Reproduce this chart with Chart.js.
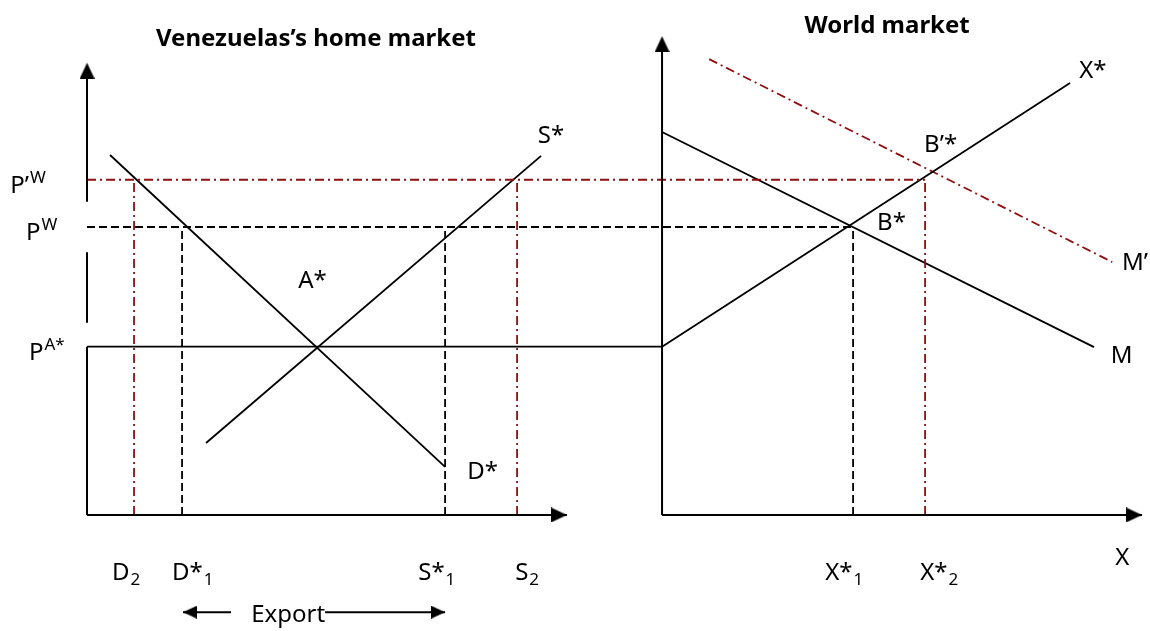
<!DOCTYPE html>
<html>
<head>
<meta charset="utf-8">
<script src="https://cdn.jsdelivr.net/npm/chart.js@4.4.1/dist/chart.umd.min.js"></script>
<style>
  html, body { margin: 0; padding: 0; background: #fff; }
  #wrap { width: 1150px; height: 631px; }
</style>
</head>
<body>
<div id="wrap"><canvas id="chart"></canvas></div>
<script>
// prices
const pAutarky = 37.4;   // P^A*
const pWorld = 64;       // P^W
const pWorldNew = 74.5;  // P'^W

// home market quantities
const qD2 = 9.8;
const qDStar1 = 19.8;
const qSStar1 = 74.6;
const qS2 = 89.6;
const homeDemand = [[4.8, 80], [74.6, 10.7]];     // D*
const homeSupply = [[24.8, 16], [94.6, 79.8]];    // S*
const homeAxisTop = 100.5;
const homeAxisEnd = 100;
const exportLeft = [30, 20];
const exportRight = [49.6, 74.6];
const exportLevel = -21.6;

// world market (quantities relative to its own origin)
const worldOrigin = 119.8;
const qX1 = 39.8;
const qX2 = 54.8;
const importDemand = [[0, 85.1], [90, 37.3]];        // M
const importDemandNew = [[9.8, 101.3], [93.8, 56.2]]; // M'
const exportSupply = [[0, 37.4], [85, 96]];          // X*
const worldAxisTop = 106.4;
const worldAxisEnd = 100;

const RED = '#8f1010';
const DASH = [8, 4];
const DASHDOT = [9, 4, 2, 4];
const FONT = '"Noto Sans", "Open Sans", sans-serif';

const home = arr => arr.map(([x, y]) => ({ x, y }));
const world = arr => arr.map(([x, y]) => ({ x: x + worldOrigin, y }));
const gap = { x: NaN, y: NaN };

function makeArrow(w, len) {
  const c = document.createElement('canvas');
  c.width = w; c.height = len * 2;
  const g = c.getContext('2d');
  g.fillStyle = '#000';
  g.beginPath();
  g.moveTo(w / 2, len); g.lineTo(w, len * 2); g.lineTo(0, len * 2);
  g.closePath(); g.fill();
  return c;
}
const bigArrow = makeArrow(15, 16);
const smallArrow = makeArrow(13, 14);

function seg(data, color, width, dash) {
  return {
    data, borderColor: color, borderWidth: width, borderDash: dash || [],
    pointRadius: 0, spanGaps: false, fill: false, tension: 0
  };
}

const labels = [
  { q: -16.0, p: 71.6, text: 'P’', sup: 'W' },
  { q: -12.7, p: 61.1, text: 'P', sup: 'W' },
  { q: -12.1, p: 34.4, text: 'P', sup: 'A*' },
  { q: 93.9, p: 82.7, text: 'S*' },
  { q: 44.0, p: 50.4, text: 'A*' },
  { q: 79.2, p: 7.9, text: 'D*' },
  { q: 5.2, p: -14.4, text: 'D', sub: '2' },
  { q: 17.7, p: -14.4, text: 'D*', sub: '1' },
  { q: 69.0, p: -14.4, text: 'S*', sub: '1' },
  { q: 89.2, p: -14.4, text: 'S', sub: '2' },
  { q: 34.2, p: -23.8, text: 'Export' },
  { q: worldOrigin + 86.9, p: 97.1, text: 'X*' },
  { q: worldOrigin + 54.6, p: 80.7, text: 'B’*' },
  { q: worldOrigin + 44.8, p: 63.3, text: 'B*' },
  { q: worldOrigin + 95.8, p: 54.4, text: 'M’' },
  { q: worldOrigin + 93.5, p: 33.8, text: 'M' },
  { q: worldOrigin + 94.4, p: -11.1, text: 'X' },
  { q: worldOrigin + 34.0, p: -14.4, text: 'X*', sub: '1' },
  { q: worldOrigin + 53.8, p: -14.4, text: 'X*', sub: '2' }
];
const titles = [
  { q: 47.7, p: 104.2, text: 'Venezuelas’s home market' },
  { q: worldOrigin + 46.9, p: 107.0, text: 'World market' }
];

const textPlugin = {
  id: 'diagramText',
  afterDatasetsDraw(chart) {
    const { ctx, scales: { x, y } } = chart;
    ctx.save();
    ctx.fillStyle = '#000';
    ctx.textBaseline = 'alphabetic';
    titles.forEach(t => {
      ctx.font = 'bold 24px ' + FONT;
      ctx.textAlign = 'center';
      ctx.fillText(t.text, x.getPixelForValue(t.q), y.getPixelForValue(t.p));
    });
    ctx.textAlign = 'left';
    labels.forEach(l => {
      let px = x.getPixelForValue(l.q);
      const py = y.getPixelForValue(l.p);
      ctx.font = '24px ' + FONT;
      ctx.fillText(l.text, px, py);
      px += ctx.measureText(l.text).width + 1;
      ctx.font = '17px ' + FONT;
      if (l.sup) ctx.fillText(l.sup, px, py - 10);
      if (l.sub) ctx.fillText(l.sub, px, py + 5);
    });
    ctx.restore();
  }
};

new Chart(document.getElementById('chart'), {
  type: 'line',
  data: {
    datasets: [
      // axes
      seg([{ x: 0, y: 0 }, { x: 0, y: pAutarky }, gap, { x: 0, y: 42.7 }, { x: 0, y: 58.4 }, gap,
           { x: 0, y: 69.6 }, { x: 0, y: homeAxisTop - 2 }], '#000', 2),
      seg([{ x: 0, y: 0 }, { x: homeAxisEnd, y: 0 }], '#000', 2),
      seg(world([[0, 0], [0, worldAxisTop - 2]]), '#000', 2),
      seg(world([[0, 0], [worldAxisEnd, 0]]), '#000', 2),
      // price lines
      seg([{ x: 0, y: pAutarky }, { x: worldOrigin, y: pAutarky }], '#000', 1.8),
      seg([{ x: 0, y: pWorld }, { x: worldOrigin + qX1, y: pWorld }], '#000', 1.8, DASH),
      seg([{ x: 0, y: pWorldNew }, { x: worldOrigin + qX2, y: pWorldNew }], RED, 1.8, DASHDOT),
      // quantity drop lines
      seg([{ x: qD2, y: 0 }, { x: qD2, y: pWorldNew }], RED, 1.8, DASHDOT),
      seg([{ x: qS2, y: 0 }, { x: qS2, y: pWorldNew }], RED, 1.8, DASHDOT),
      seg([{ x: qDStar1, y: 0 }, { x: qDStar1, y: pWorld }], '#000', 1.8, DASH),
      seg([{ x: qSStar1, y: 0 }, { x: qSStar1, y: pWorld }], '#000', 1.8, DASH),
      seg(world([[qX1, 0], [qX1, pWorld]]), '#000', 1.8, DASH),
      seg(world([[qX2, 0], [qX2, pWorldNew]]), RED, 1.8, DASHDOT),
      // curves
      seg(home(homeDemand), '#000', 1.8),
      seg(home(homeSupply), '#000', 1.8),
      seg(world(importDemand), '#000', 1.8),
      seg(world(exportSupply), '#000', 1.8),
      seg(world(importDemandNew), RED, 1.8, DASHDOT),
      // export arrows
      seg(exportLeft.map(x => ({ x, y: exportLevel })), '#000', 2),
      seg(exportRight.map(x => ({ x, y: exportLevel })), '#000', 2),
      {
        data: [{ x: 0, y: homeAxisTop }, { x: homeAxisEnd, y: 0 },
               { x: worldOrigin, y: worldAxisTop }, { x: worldOrigin + worldAxisEnd, y: 0 }],
        showLine: false, pointStyle: bigArrow, pointRadius: 8, pointRotation: [0, 90, 0, 90]
      },
      {
        data: [{ x: exportLeft[1], y: exportLevel }, { x: exportRight[1], y: exportLevel }],
        showLine: false, pointStyle: smallArrow, pointRadius: 7, pointRotation: [-90, 90]
      }
    ]
  },
  options: {
    responsive: true,
    maintainAspectRatio: false,
    animation: false,
    layout: { padding: 0, autoPadding: false },
    plugins: { legend: { display: false }, tooltip: { enabled: false } },
    events: [],
    scales: {
      x: { type: 'linear', display: false, min: -18.125, max: 221.458 },
      y: { type: 'linear', display: false, min: -25.78, max: 114.44 }
    }
  },
  plugins: [textPlugin]
});
</script>
</body>
</html>
